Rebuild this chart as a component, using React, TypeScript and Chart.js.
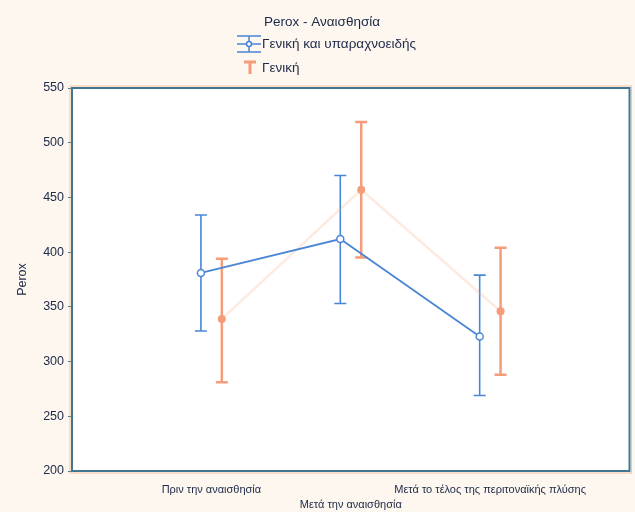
import { useEffect, useRef } from 'react';
import { Chart, registerables } from 'chart.js';

Chart.register(...registerables);

// Time points of the measurement
const categories = [
  'Πριν την αναισθησία',
  'Μετά την αναισθησία',
  'Μετά το τέλος της περιτοναϊκής πλύσης',
];

// Series names
const seriesNames = ['Γενική και υπαραχνοειδής', 'Γενική'];

// Group 1: general + subarachnoid anaesthesia (mean and interval)
const combinedMeans = [381, 412, 323];
const combinedLower = [328, 353, 269];
const combinedUpper = [434, 470, 379];

// Group 2: general anaesthesia only
const generalMeans = [339, 457, 346];
const generalLower = [281, 395, 288];
const generalUpper = [394, 519, 404];

// Y axis ticks
const yTicks = [200, 250, 300, 350, 400, 450, 500, 550];

const TITLE = 'Perox - Αναισθησία';
const Y_TITLE = 'Perox';

const BLUE = '#4a86d6';
const ORANGE = '#f59c7a';
const TEXT = '#1b2846';
const FONT = "'Liberation Sans', Arial, sans-serif";

const GROUP_SHIFT = 0.075;

export default function App() {
  const ref = useRef<HTMLCanvasElement | null>(null);

  useEffect(() => {
    document.body.style.margin = '0';
    const canvas = ref.current;
    if (!canvas) return;

    const toPoints = (vals: number[], shift: number) =>
      vals.map((v, i) => ({ x: i + 1 + shift, y: v }));

    const backgroundPlugin = {
      id: 'bg',
      beforeDraw(chart: any) {
        const { ctx, chartArea } = chart;
        ctx.save();
        ctx.fillStyle = '#fdf7ef';
        ctx.fillRect(0, 0, chart.width, chart.height);
        ctx.fillStyle = '#ffffff';
        ctx.fillRect(chartArea.left, chartArea.top, chartArea.right - chartArea.left, chartArea.bottom - chartArea.top);
        ctx.restore();
      },
      afterDraw(chart: any) {
        const { ctx, chartArea } = chart;
        const { left, top, right, bottom } = chartArea;
        ctx.save();
        ctx.strokeStyle = 'rgba(245,160,120,0.6)';
        ctx.lineWidth = 1;
        ctx.strokeRect(left - 2, top - 2, right - left + 4, bottom - top + 4);
        ctx.strokeStyle = '#3f7890';
        ctx.lineWidth = 2;
        ctx.strokeRect(left, top, right - left, bottom - top);
        ctx.restore();
      },
    };

    const errorBarPlugin = {
      id: 'errorBars',
      beforeDatasetsDraw(chart: any) {
        const { ctx } = chart;
        const xs = chart.scales.x;
        const ys = chart.scales.y;
        chart.data.datasets.forEach((ds: any) => {
          ctx.save();
          ctx.strokeStyle = ds.errorColor;
          ctx.lineWidth = ds.errorWidth;
          ds.data.forEach((p: any, i: number) => {
            const x = xs.getPixelForValue(p.x);
            const yl = ys.getPixelForValue(ds.errorLow[i]);
            const yh = ys.getPixelForValue(ds.errorHigh[i]);
            const cap = 6;
            ctx.beginPath();
            ctx.moveTo(x, yl);
            ctx.lineTo(x, yh);
            ctx.moveTo(x - cap, yl);
            ctx.lineTo(x + cap, yl);
            ctx.moveTo(x - cap, yh);
            ctx.lineTo(x + cap, yh);
            ctx.stroke();
          });
          ctx.restore();
        });
      },
    };

    const headerPlugin = {
      id: 'header',
      afterDraw(chart: any) {
        const { ctx } = chart;
        ctx.save();
        ctx.fillStyle = TEXT;
        ctx.font = `13.5px ${FONT}`;
        ctx.textBaseline = 'middle';
        ctx.textAlign = 'center';
        ctx.fillText(TITLE, 322, 22);

        ctx.textAlign = 'left';
        // combined group legend entry
        const cx = 249, cy = 44;
        ctx.strokeStyle = BLUE;
        ctx.lineWidth = 1.5;
        ctx.beginPath();
        ctx.moveTo(cx - 12, cy - 8); ctx.lineTo(cx + 12, cy - 8);
        ctx.moveTo(cx - 12, cy + 8); ctx.lineTo(cx + 12, cy + 8);
        ctx.moveTo(cx - 12, cy); ctx.lineTo(cx + 12, cy);
        ctx.moveTo(cx, cy - 8); ctx.lineTo(cx, cy + 8);
        ctx.stroke();
        ctx.fillStyle = '#ffffff';
        ctx.beginPath();
        ctx.arc(cx, cy, 2.5, 0, Math.PI * 2);
        ctx.fill();
        ctx.stroke();
        ctx.fillStyle = TEXT;
        ctx.fillText(seriesNames[0], 262, cy);

        // general group legend entry
        const ox = 250, oy = 68;
        ctx.strokeStyle = ORANGE;
        ctx.lineWidth = 3;
        ctx.beginPath();
        ctx.moveTo(ox - 6, oy - 6); ctx.lineTo(ox + 6, oy - 6);
        ctx.moveTo(ox, oy - 6); ctx.lineTo(ox, oy + 6);
        ctx.stroke();
        ctx.fillStyle = TEXT;
        ctx.fillText(seriesNames[1], 262, oy);
        ctx.restore();
      },
    };

    const chart = new Chart(canvas, {
      type: 'line',
      data: {
        datasets: [
          {
            label: seriesNames[0],
            data: toPoints(combinedMeans, -GROUP_SHIFT),
            borderColor: BLUE,
            borderWidth: 1.8,
            pointRadius: 3.5,
            pointBorderWidth: 1.5,
            pointBackgroundColor: '#ffffff',
            pointBorderColor: BLUE,
            order: 0,
            errorLow: combinedLower,
            errorHigh: combinedUpper,
            errorColor: BLUE,
            errorWidth: 1.6,
          } as any,
          {
            label: seriesNames[1],
            data: toPoints(generalMeans, GROUP_SHIFT),
            borderColor: 'rgba(248,170,135,0.25)',
            borderWidth: 2.5,
            pointRadius: 4,
            pointBorderWidth: 0,
            pointBackgroundColor: ORANGE,
            pointBorderColor: ORANGE,
            order: 1,
            errorLow: generalLower,
            errorHigh: generalUpper,
            errorColor: ORANGE,
            errorWidth: 2.5,
          } as any,
        ],
      },
      options: {
        animation: false,
        responsive: true,
        maintainAspectRatio: false,
        layout: { padding: { top: 88, right: 3, left: 10, bottom: 0 } },
        plugins: {
          legend: { display: false },
          title: { display: false },
          tooltip: { enabled: false },
        },
        scales: {
          x: {
            type: 'linear',
            min: 0,
            max: 4,
            afterBuildTicks(scale: any) {
              scale.ticks = categories.map((_, i) => ({ value: i + 1 }));
            },
            afterFit(scale: any) {
              scale.height = 41;
            },
            border: { display: false },
            grid: { display: false, drawTicks: false },
            ticks: {
              autoSkip: false,
              minRotation: 0,
              maxRotation: 0,
              padding: 11,
              color: TEXT,
              font: { family: FONT, size: 11, lineHeight: 1.4 },
              callback: (v: any) => {
                const i = Math.round(Number(v)) - 1;
                const label = categories[i] ?? '';
                return i === 1 ? ['', label] : label;
              },
            },
          },
          y: {
            type: 'linear',
            min: 200,
            max: 550,
            afterBuildTicks(scale: any) {
              scale.ticks = yTicks.map((v) => ({ value: v }));
            },
            afterFit(scale: any) {
              scale.width = 62;
            },
            border: { display: false },
            grid: { drawOnChartArea: false, drawTicks: true, tickLength: 4, color: '#3f7890' },
            title: {
              display: true,
              text: Y_TITLE,
              color: TEXT,
              font: { family: FONT, size: 12.5 },
              padding: { top: 5, bottom: 0 },
            },
            ticks: {
              color: TEXT,
              padding: 4,
              font: { family: FONT, size: 12.5 },
            },
          },
        },
      } as any,
      plugins: [backgroundPlugin, errorBarPlugin, headerPlugin],
    });

    return () => chart.destroy();
  }, []);

  return (
    <div style={{ width: 635, height: 512, position: 'relative' }}>
      <canvas ref={ref} />
    </div>
  );
}
